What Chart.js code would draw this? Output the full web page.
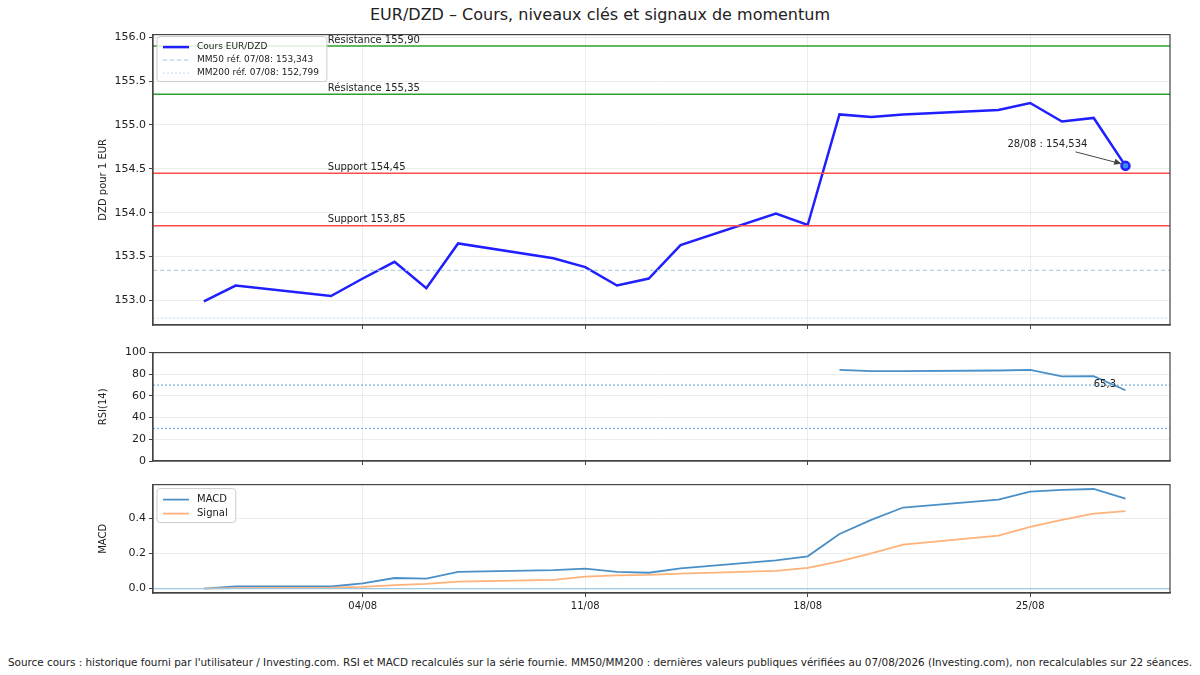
<!DOCTYPE html>
<html><head><meta charset="utf-8">
<script src="https://cdn.jsdelivr.net/npm/chart.js@4.4.1/dist/chart.umd.min.js"></script>
<style>
body{margin:0;width:1200px;height:675px;background:#fff;font-family:"DejaVu Sans",sans-serif;position:relative;overflow:hidden}
.c{position:absolute;left:0;width:1200px}
#title{position:absolute;top:5px;left:0;width:1200px;text-align:center;font-size:16px;color:#222}
#foot{position:absolute;top:656px;left:0;width:1200px;text-align:center;font-size:10.4px;color:#222;white-space:nowrap}
</style></head><body>
<div id="title">EUR/DZD – Cours, niveaux clés et signaux de momentum</div>
<div class="c" style="top:25px;height:310px"><canvas id="c1"></canvas></div>
<div class="c" style="top:343px;height:128px"><canvas id="c2"></canvas></div>
<div class="c" style="top:475px;height:140px"><canvas id="c3"></canvas></div>
<div id="foot">Source cours : historique fourni par l'utilisateur / Investing.com. RSI et MACD recalculés sur la série fournie. MM50/MM200 : dernières valeurs publiques vérifiées au 07/08/2026 (Investing.com), non recalculables sur 22 séances.</div>
<script>
// day number: day of August (30/07 = -1, 31/07 = 0)
const days   = [-1,0,3,4,5,6,7,10,11,12,13,14,17,18,19,20,21,24,25,26,27,28];
const price  = [152.99,153.17,153.05,153.25,153.44,153.14,153.65,153.48,153.38,153.17,153.25,153.63,153.99,153.86,155.12,155.09,155.12,155.17,155.25,155.04,155.08,154.534];
const rsi    = [null,null,null,null,null,null,null,null,null,null,null,null,null,null,84,83,83,83.5,84,78,78.2,65.3];
const macd   = [0,0.012,0.012,0.03,0.06,0.057,0.095,0.105,0.113,0.095,0.09,0.115,0.16,0.183,0.31,0.39,0.46,0.505,0.55,0.56,0.565,0.51];
const signal = [0,0.003,0.005,0.01,0.02,0.027,0.04,0.05,0.068,0.075,0.078,0.085,0.1,0.118,0.155,0.2,0.25,0.3,0.35,0.39,0.425,0.44];
const levels = [{v:155.90,t:"Résistance 155,90",c:"#2ca02c"},{v:155.35,t:"Résistance 155,35",c:"#2ca02c"},{v:154.45,t:"Support 154,45",c:"#ff4d4d"},{v:153.85,t:"Support 153,85",c:"#ff4d4d"}];
const mm50 = 153.343, mm200 = 152.799;
const xTicks = [4,11,18,25];
const priceTicks = [153.0,153.5,154.0,154.5,155.0,155.5,156.0];
const rsiTicks = [0,20,40,60,80,100];
const macdTicks = [0,0.2,0.4];
const XMIN=-2.6, XMAX=29.4;
const pts = arr => days.map((d,i)=>({x:d,y:arr[i]}));
const hline = (v,col,w,dash) => ({data:[{x:XMIN,y:v},{x:XMAX,y:v}],borderColor:col,borderWidth:w,borderDash:dash||[],pointRadius:0});
const F = "DejaVu Sans";
Chart.defaults.font.family = F;
Chart.defaults.animation = false;
function xScale(showLabels){
  return {type:'linear',min:XMIN,max:XMAX,afterBuildTicks:s=>{s.ticks=xTicks.map(v=>({value:v}));},
    ticks:{display:showLabels,color:'#222',font:{size:10},callback:v=>String(v).padStart(2,'0')+'/08',maxRotation:0},
    grid:{color:'rgba(0,0,0,0.07)',tickLength:4,tickColor:'#444'},border:{color:'#444',width:1.2},
    afterFit:s=>{ if(!showLabels) s.height=4; }};
}
function yScale(title,min,max,tks,fmt){
  return {min:min,max:max,afterFit:s=>{s.width=58;},afterBuildTicks:s=>{s.ticks=tks.map(v=>({value:v}));},
    title:{display:true,text:title,font:{size:10},color:'#222',padding:2},
    ticks:{color:'#222',font:{size:11},callback:fmt},grid:{color:'rgba(0,0,0,0.07)',tickLength:4,tickColor:'#444'},border:{color:'#444',width:1.2}};
}
const frame = {id:'frame',afterDraw(c){const a=c.chartArea,x=c.ctx;x.save();x.strokeStyle='#444';x.lineWidth=1.2;x.strokeRect(a.left,a.top,a.right-a.left,a.bottom-a.top);x.restore();}};
function drawLegend(ctx,x0,y0,items,fs){
  ctx.save();ctx.font=fs+'px '+F;
  const w=Math.max(...items.map(i=>ctx.measureText(i.t).width))+48, h=items.length*(fs+4)+6;
  ctx.fillStyle='rgba(255,255,255,0.85)';ctx.strokeStyle='#ccc';ctx.lineWidth=1;
  ctx.beginPath();ctx.roundRect(x0,y0,w,h,3);ctx.fill();ctx.stroke();
  items.forEach((it,i)=>{const y=y0+6+i*(fs+4)+fs/2;ctx.strokeStyle=it.c;ctx.lineWidth=it.w;ctx.setLineDash(it.d||[]);
    ctx.beginPath();ctx.moveTo(x0+6,y);ctx.lineTo(x0+32,y);ctx.stroke();ctx.setLineDash([]);
    ctx.fillStyle='#222';ctx.textBaseline='middle';ctx.fillText(it.t,x0+40,y);});
  ctx.restore();
}
new Chart(document.getElementById('c1'),{type:'line',
  data:{datasets:[
    ...levels.map(l=>hline(l.v,l.c,1.5)),
    hline(mm50,'#9ecae1',1,[4,3]),
    hline(mm200,'#c6dbef',1,[2,2]),
    {data:pts(price),borderColor:'#1f1fff',borderWidth:2.5,pointRadius:days.map((d,i)=>i===days.length-1?4:0),pointBackgroundColor:'#3a8ee6',pointBorderColor:'#1f1fff',tension:0}
  ]},
  options:{responsive:true,maintainAspectRatio:false,layout:{padding:{left:95,right:30,top:7,bottom:6}},
    plugins:{legend:{display:false},tooltip:{enabled:false}},
    scales:{x:xScale(false),y:yScale('DZD pour 1 EUR',152.72,156.03,priceTicks,v=>v.toFixed(1))}},
  plugins:[frame,{id:'ann',afterDatasetsDraw(c){const x=c.ctx,sx=c.scales.x,sy=c.scales.y;x.save();x.font='10px '+F;x.fillStyle='#222';x.textBaseline='bottom';
    levels.forEach(l=>x.fillText(l.t,sx.getPixelForValue(2.9),sy.getPixelForValue(l.v)-1));
    const px=sx.getPixelForValue(28),py=sy.getPixelForValue(price[price.length-1]);
    x.fillText('28/08 : 154,534',px-118,py-16);
    x.strokeStyle='#444';x.lineWidth=1;x.beginPath();x.moveTo(px-50,py-14);x.lineTo(px-4,py-2);x.stroke();
    x.beginPath();x.moveTo(px-4,py-2);x.lineTo(px-12,py-1);x.lineTo(px-10,py-7);x.closePath();x.fillStyle='#444';x.fill();
    x.restore();
    drawLegend(c.ctx,c.chartArea.left+4,c.chartArea.top+2,[{t:'Cours EUR/DZD',c:'#1f1fff',w:2.5},{t:'MM50 réf. 07/08: 153,343',c:'#9ecae1',w:1,d:[4,3]},{t:'MM200 réf. 07/08: 152,799',c:'#c6dbef',w:1,d:[2,2]}],9);
  }}]});
new Chart(document.getElementById('c2'),{type:'line',
  data:{datasets:[hline(70,'#7fb2dc',1.3,[2,2]),hline(30,'#7fb2dc',1.3,[2,2]),
    {data:pts(rsi),borderColor:'#4a90c8',borderWidth:1.8,pointRadius:0,spanGaps:false}]},
  options:{responsive:true,maintainAspectRatio:false,layout:{padding:{left:95,right:30,top:7,bottom:6}},
    plugins:{legend:{display:false},tooltip:{enabled:false}},
    scales:{x:xScale(false),y:yScale('RSI(14)',0,100,rsiTicks,v=>v)}},
  plugins:[frame,{id:'rl',afterDatasetsDraw(c){const x=c.ctx;x.save();x.font='10px '+F;x.fillStyle='#222';x.textBaseline='middle';
    x.fillText('65,3',c.scales.x.getPixelForValue(27.0),c.scales.y.getPixelForValue(71));x.restore();}}]});
new Chart(document.getElementById('c3'),{type:'line',
  data:{datasets:[hline(0,'#9ecae1',1.3),
    {data:pts(signal),borderColor:'#ffb27a',borderWidth:1.8,pointRadius:0},
    {data:pts(macd),borderColor:'#4a90c8',borderWidth:1.8,pointRadius:0}]},
  options:{responsive:true,maintainAspectRatio:false,layout:{padding:{left:95,right:30,top:7,bottom:0}},
    plugins:{legend:{display:false},tooltip:{enabled:false}},
    scales:{x:xScale(true),y:yScale('MACD',-0.025,0.59,macdTicks,v=>v.toFixed(1))}},
  plugins:[frame,{id:'lg',afterDraw(c){drawLegend(c.ctx,c.chartArea.left+4,c.chartArea.top+4,[{t:'MACD',c:'#4a90c8',w:1.8},{t:'Signal',c:'#ffb27a',w:1.8}],10);}}]});
</script></body></html>
